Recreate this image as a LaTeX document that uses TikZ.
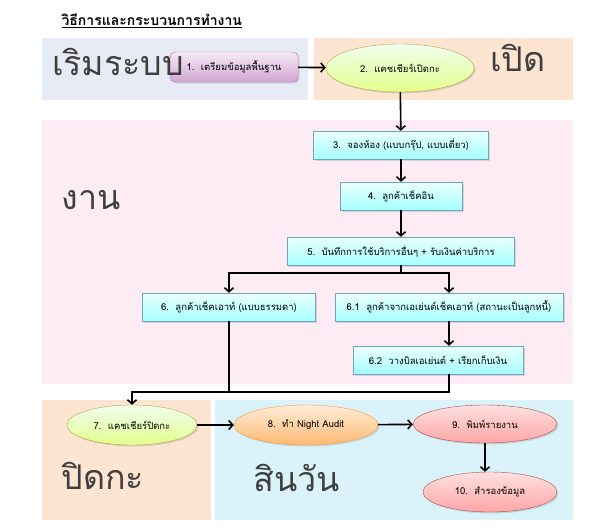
\documentclass[tikz,border=0pt]{standalone}
\usepackage{fontspec}
\setmainfont[Script=Thai]{Loma}
\usetikzlibrary{shapes.geometric,shadows,arrows.meta}

\definecolor{zoneblue}{HTML}{E7EBF5}
\definecolor{zonepeach}{HTML}{FDE5D2}
\definecolor{zonepink}{HTML}{FDECF4}
\definecolor{zonecyan}{HTML}{DAF3FA}
\definecolor{bigtext}{HTML}{3F3F3F}

\begin{document}
\begin{tikzpicture}[x=1pt,y=-1pt,
  bigword/.style={text=bigtext,font=\fontsize{34}{40}\selectfont,inner sep=0pt},
  small/.style={font=\fontsize{9.5}{11}\selectfont},
  box/.style={small,draw=cyan!60!black!70,top color=cyan!8,bottom color=cyan!35,
    minimum height=28pt,inner sep=2pt,
    drop shadow={opacity=0.25,shadow xshift=1.5pt,shadow yshift=-1.5pt}},
  oval/.style={small,ellipse,inner sep=0pt,minimum height=40pt,
    drop shadow={opacity=0.25,shadow xshift=1.5pt,shadow yshift=-1.5pt}},
  greenoval/.style={oval,draw=olive!70,top color=green!6!white,bottom color=lime!45!white},
  orangeoval/.style={oval,draw=orange!80,top color=orange!15,bottom color=orange!55},
  pinkoval/.style={oval,draw=red!55!black!70,top color=red!12,bottom color=red!35},
  arrow/.style={line width=1.6pt,-{Straight Barb[length=4pt,width=9pt]}}]
\useasboundingbox (0,0) rectangle (594,528);

%%%%%%%%%%%%%%%% zones
\fill[zoneblue] (42,38) rectangle (308,100);
\fill[zonepeach] (314,38) rectangle (573,100);
\fill[zonepink] (42,120) rectangle (573,384);
\fill[zonepeach] (42,400) rectangle (211,520);
\fill[zonecyan] (215,400) rectangle (573,520);

%%%%%%%%%%%%%%%% title
\node[anchor=west,font=\fontsize{14}{16}\selectfont\bfseries] (title) at (58,21) {\underline{วิธีการและกระบวนการทำงาน}};

%%%%%%%%%%%%%%%% steps
\node[small,draw=violet!60,rounded corners=5pt,top color=violet!8,bottom color=violet!35,
  minimum width=128pt,minimum height=30pt,
  drop shadow={opacity=0.25,shadow xshift=1.5pt,shadow yshift=-1.5pt}] (n1) at (234,67) {1.\ \ เตรียมข้อมูลพื้นฐาน};
\node[greenoval,minimum width=148pt,minimum height=48pt] (n2) at (400,68) {2.\ \ แคชเชียร์เปิดกะ};
\node[box,minimum width=175pt] (n3) at (401,145) {3.\ \ จองห้อง (แบบกรุ๊ป, แบบเดี่ยว)};
\node[box,minimum width=122pt] (n4) at (401,196) {4.\ \ ลูกค้าเช็คอิน};
\node[box,minimum width=227pt] (n5) at (401,251) {5.\ \ บันทึกการใช้บริการอื่นๆ + รับเงินค่าบริการ};
\node[box,minimum width=173pt] (n6) at (229,307) {6.\ \ ลูกค้าเช็คเอาท์ (แบบธรรมดา)};
\node[box,minimum width=228pt] (n61) at (449,307) {6.1\ \ ลูกค้าจากเอเย่นต์เช็คเอาท์ (สถานะเป็นลูกหนี้)};
\node[box,minimum width=170pt] (n62) at (438,360) {6.2\ \ วางบิลเอเย่นต์ + เรียกเก็บเงิน};
\node[greenoval,minimum width=130pt] (n7) at (132,425) {7.\ \ แคชเชียร์ปิดกะ};
\node[orangeoval,minimum width=144pt] (n8) at (306,425) {8.\ \ ทำ Night Audit};
\node[pinkoval,minimum width=144pt,minimum height=38pt] (n9) at (485,424) {9.\ \ พิมพ์รายงาน};
\node[pinkoval,minimum width=134pt] (n10) at (490,492) {10.\ \ สำรองข้อมูล};

%%%%%%%%%%%%%%%% zone words
\node[bigword] (w1) at (118,62) {เริมระบบ};
\node[bigword] (w2) at (518,58) {เปิด};
\node[bigword] (w3) at (91,200) {งาน};
\node[bigword] (w4) at (103,476) {ปิดกะ};
\node[bigword] (w5) at (297,478) {สินวัน};

%%%%%%%%%%%%%%%% connectors
\coordinate (split) at (401,273);
\coordinate (merge) at (132,392);
\draw[arrow] (n1) -- (n2);
\draw[arrow] (n2) -- (n3);
\draw[arrow] (n3) -- (n4);
\draw[arrow] (n4) -- (n5);
\draw[line width=1.6pt] (n5) -- (split);
\draw[arrow] (split) -| (n6);
\draw[arrow] (split) -| (n61);
\draw[arrow] (n61) -- (n62.north -| n61.south);
\draw[line width=1.6pt] (n6) |- (merge);
\draw[arrow] (n62.south -| n61.south) |- (merge) -- (n7);
\draw[arrow] (n7) -- (n8);
\draw[arrow] (n8) -- (n9);
\draw[arrow] (n9) -- (n10.north -| n9.south);
\end{tikzpicture}
\end{document}
